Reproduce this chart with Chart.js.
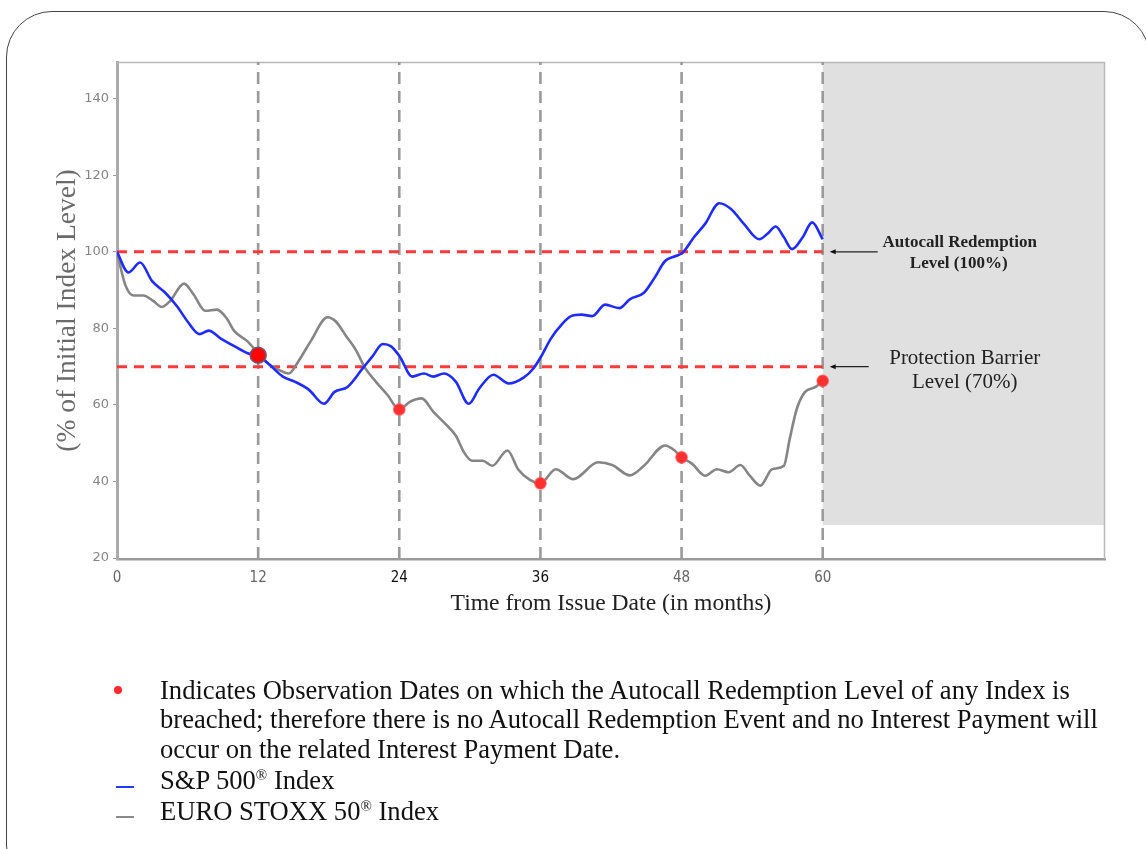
<!DOCTYPE html>
<html>
<head>
<meta charset="utf-8">
<script src="https://cdn.jsdelivr.net/npm/chart.js@4.4.1/dist/chart.umd.min.js"></script>
<style>
  html, body { margin: 0; padding: 0; background: #fff; width: 1146px; height: 849px; overflow: hidden; }
  #frame { position: absolute; left: 6px; top: 11px; width: 1144px; height: 880px; border: 1.5px solid #444; border-radius: 46px; box-sizing: border-box; }
  #c { position: absolute; left: 0; top: 0; }
  .note { position: absolute; left: 160px; font-family: 'Liberation Serif', 'Times New Roman', serif; font-size: 26.6px; color: #111; line-height: 30px; white-space: nowrap; }
  .note sup { font-size: 15px; vertical-align: 9px; line-height: 0; }
  .dot { position: absolute; left: 114px; top: 686px; width: 8px; height: 8px; border-radius: 50%; background: #ff2a2a; }
  .key { position: absolute; left: 116px; width: 18px; height: 2px; }
</style>
</head>
<body>
<div id="frame"></div>
<canvas id="c" width="1146" height="849"></canvas>

<div class="dot"></div>
<div class="note" style="top:675px">Indicates Observation Dates on which the Autocall Redemption Level of any Index is</div>
<div class="note" style="top:704px">breached; therefore there is no Autocall Redemption Event and no Interest Payment will</div>
<div class="note" style="top:734px">occur on the related Interest Payment Date.</div>
<div class="key" style="top:786px;background:#1f3cff"></div>
<div class="note" style="top:765px">S&amp;P 500<sup>®</sup> Index</div>
<div class="key" style="top:816px;background:#8a8a8a"></div>
<div class="note" style="top:796px">EURO STOXX 50<sup>®</sup> Index</div>

<script>
// Index paths, as % of the initial level, by month since issue
const spxMonths = [0, 0.97, 1.97, 2.97, 4.1, 5.1, 6.0, 7.0, 7.8, 8.8, 10.0, 11.1, 12.0, 13.0, 14.1, 15.1, 16.3, 17.6, 18.5, 19.6, 20.9, 21.7, 22.6, 23.3, 24.05, 25.1, 26.1, 26.9, 27.8, 28.8, 29.9, 30.8, 32.0, 33.3, 34.6, 35.4, 36.05, 36.9, 37.8, 38.6, 39.5, 40.4, 41.5, 42.7, 43.6, 44.8, 45.7, 46.6, 47.5, 48.1, 49.05, 50.0, 51.2, 52.2, 53.3, 54.6, 55.3, 56.0, 56.7, 57.4, 58.3, 59.1, 60.0];
const spxLevels = [100, 94.6, 97.2, 92.4, 89.3, 85.8, 81.8, 78.5, 79.4, 77.4, 75.3, 73.5, 72.8, 70.4, 67.4, 66.1, 64.0, 60.3, 63.4, 64.7, 69.6, 72.6, 75.9, 75.3, 72.6, 67.4, 68.2, 67.4, 68.2, 66.1, 60.3, 64.3, 67.9, 65.6, 67.2, 69.5, 72.6, 77.4, 81.0, 83.2, 83.6, 83.2, 86.2, 85.3, 87.6, 89.3, 93.2, 97.6, 98.9, 99.8, 103.8, 107.3, 112.7, 111.2, 107.3, 103.3, 104.7, 106.6, 103.8, 100.7, 103.8, 107.7, 103.3];

const sx5eMonths = [0, 0.69, 1.4, 2.25, 3.1, 3.8, 4.5, 5.7, 6.5, 7.5, 8.5, 9.3, 10.0, 11.1, 12.0, 13.0, 13.8, 14.6, 15.4, 16.5, 17.9, 18.6, 19.5, 20.3, 21.1, 22.0, 23.0, 24.0, 24.9, 25.9, 26.9, 27.9, 28.8, 29.5, 30.2, 31.1, 31.9, 33.2, 34.1, 35.1, 36.0, 37.3, 38.8, 40.9, 42.1, 43.6, 44.8, 46.6, 47.4, 48.0, 48.9, 50.0, 51.0, 52.0, 53.0, 53.8, 54.7, 55.7, 56.7, 57.2, 57.8, 58.5, 59.4, 60.0];
const sx5eLevels = [100, 91.5, 88.6, 88.6, 87.1, 85.6, 87.1, 91.7, 88.9, 84.6, 84.9, 82.7, 79.2, 76.6, 73.5, 70.4, 69.1, 68.2, 71.3, 76.8, 82.9, 81.8, 77.9, 74.4, 69.6, 66.1, 62.6, 58.8, 60.8, 61.7, 58.2, 55.1, 52.0, 47.6, 45.4, 45.4, 44.1, 48.1, 43.2, 40.4, 39.5, 43.2, 40.6, 45.0, 44.3, 41.6, 44.1, 49.4, 48.1, 46.3, 44.6, 41.5, 43.2, 42.4, 44.3, 41.5, 38.9, 43.2, 44.1, 51.2, 59.0, 63.4, 64.7, 66.3];

// Observation dates and the worst-performing level on each
const observationMonths = [12, 24, 36, 48, 60];
const observationLevels = [73, 58.8, 39.5, 46.3, 66.3];

// Reference levels (% of initial)
const autocallLevel = 100;
const barrierLevel = 70;

// Axis ticks
const monthTicks = [0, 12, 24, 36, 48, 60];
const levelTicks = [20, 40, 60, 80, 100, 120, 140];

// Period after final observation, shaded
const shadedFrom = 60;
const shadedFloor = 28.6;

const X_MAX = 84, Y_MIN = 19.74, Y_MAX = 149.6;

const toPoints = (xs, ys) => xs.map((x, i) => ({ x, y: ys[i] }));
const hLine = (level) => [{ x: 0, y: level }, { x: observationMonths[observationMonths.length - 1], y: level }];
const vLine = (m) => [{ x: m, y: Y_MIN }, { x: m, y: Y_MAX }];

const datasets = [
  {
    label: 'Observation', data: toPoints(observationMonths, observationLevels), showLine: false,
    pointRadius: observationMonths.map((m, i) => i === 0 ? 8 : 5.8),
    pointBackgroundColor: observationMonths.map((m, i) => i === 0 ? '#ff0505' : '#ff3030'),
    pointBorderColor: observationMonths.map((m, i) => i === 0 ? '#6e5a78' : 'rgba(255,90,90,0.55)'),
    pointBorderWidth: 1.5,
    order: 0
  },
  {
    label: 'S&P 500 Index', data: toPoints(spxMonths, spxLevels),
    borderColor: '#1f2cff', borderWidth: 2.6, pointRadius: 0,
    cubicInterpolationMode: 'monotone', order: 1
  },
  {
    label: 'EURO STOXX 50 Index', data: toPoints(sx5eMonths, sx5eLevels),
    borderColor: '#858585', borderWidth: 2.6, pointRadius: 0,
    cubicInterpolationMode: 'monotone', order: 1
  },
  ...[autocallLevel, barrierLevel].map(level => ({
    label: 'level ' + level, data: hLine(level),
    borderColor: '#ff3838', borderWidth: 3, borderDash: [10, 7], pointRadius: 0, order: 2
  })),
  ...observationMonths.map(m => ({
    label: 'obs ' + m, data: vLine(m),
    borderColor: '#9a9a9a', borderWidth: 2.6, borderDash: [12, 7], pointRadius: 0, order: 3
  }))
];

// Shaded post-maturity block and the thin top/right plot frame
const backdrop = {
  id: 'backdrop',
  beforeDatasetsDraw(chart) {
    const { ctx, chartArea: a, scales: { x, y } } = chart;
    const x0 = x.getPixelForValue(shadedFrom);
    const yb = y.getPixelForValue(shadedFloor);
    ctx.save();
    ctx.fillStyle = '#e0e0e0';
    ctx.fillRect(x0, a.top, a.right - x0, yb - a.top);
    ctx.strokeStyle = '#b8b8b8';
    ctx.lineWidth = 1.5;
    ctx.beginPath();
    ctx.moveTo(a.left, a.top + 0.5);
    ctx.lineTo(a.right - 0.5, a.top + 0.5);
    ctx.lineTo(a.right - 0.5, a.bottom);
    ctx.stroke();
    ctx.restore();
  }
};

// Labelled arrows pointing at the two reference levels
const callouts = {
  id: 'callouts',
  afterDatasetsDraw(chart) {
    const { ctx, scales: { x, y } } = chart;
    const xe = x.getPixelForValue(shadedFrom);
    const arrow = (x1, x2, yy) => {
      ctx.beginPath();
      ctx.moveTo(x1, yy); ctx.lineTo(x2 + 4, yy);
      ctx.stroke();
      ctx.beginPath();
      ctx.moveTo(x2, yy); ctx.lineTo(x2 + 6, yy - 2.5); ctx.lineTo(x2 + 6, yy + 2.5);
      ctx.closePath(); ctx.fill();
    };
    ctx.save();
    ctx.strokeStyle = '#222'; ctx.fillStyle = '#111'; ctx.lineWidth = 1.2;
    const ya = y.getPixelForValue(autocallLevel);
    const yp = y.getPixelForValue(barrierLevel);
    arrow(xe + 55, xe + 7, ya);
    arrow(xe + 46, xe + 7, yp);
    ctx.textAlign = 'center'; ctx.textBaseline = 'middle';
    ctx.font = 'bold 17px "Liberation Serif", serif';
    ctx.fillStyle = '#222';
    ctx.fillText('Autocall Redemption', xe + 137, ya - 9);
    ctx.fillText('Level (100%)', xe + 136, ya + 12);
    ctx.font = '21px "Liberation Serif", serif';
    ctx.fillText('Protection Barrier', xe + 142, yp - 8);
    ctx.fillText('Level (70%)', xe + 142, yp + 16);
    ctx.restore();
  }
};

new Chart(document.getElementById('c'), {
  type: 'line',
  data: { datasets },
  plugins: [backdrop, callouts],
  options: {
    responsive: false,
    devicePixelRatio: 1,
    animation: false,
    layout: { padding: { left: 44, top: 62, right: 41, bottom: 215 } },
    plugins: { legend: { display: false }, tooltip: { enabled: false } },
    scales: {
      x: {
        type: 'linear', min: 0, max: X_MAX,
        afterBuildTicks: s => { s.ticks = monthTicks.map(v => ({ value: v })); },
        afterFit: s => { s.height = 75; },
        grid: { display: false, drawTicks: false },
        border: { display: true, color: '#9a9a9a', width: 2.5 },
        ticks: {
          padding: 10, maxRotation: 0, autoSkip: false,
          font: { family: "'Liberation Sans Narrow', 'DejaVu Sans Condensed', sans-serif", size: 15 },
          color: ctx => (ctx.tick && (ctx.tick.value === 24 || ctx.tick.value === 36)) ? '#111' : '#666'
        },
        title: {
          display: true, text: 'Time from Issue Date (in months)', color: '#222',
          font: { family: "'Liberation Serif', serif", size: 23.6 }, padding: { top: 0, bottom: 16 }
        }
      },
      y: {
        type: 'linear', min: Y_MIN, max: Y_MAX,
        afterBuildTicks: s => { s.ticks = levelTicks.map(v => ({ value: v })); },
        afterFit: s => { s.width = 73; },
        grid: { drawOnChartArea: false, drawTicks: true, tickLength: 4, color: '#9a9a9a', tickWidth: 1 },
        border: { display: true, color: '#ababab', width: 3 },
        ticks: {
          padding: 4,
          font: { family: "'DejaVu Sans', sans-serif", size: 13 },
          color: '#858585'
        },
        title: {
          display: true, text: '(% of Initial Index Level)', color: '#6a6a6a',
          font: { family: "'Liberation Serif', serif", size: 27.5 }, padding: { top: 7, bottom: 0 }
        }
      }
    }
  }
});
</script>
</body>
</html>
